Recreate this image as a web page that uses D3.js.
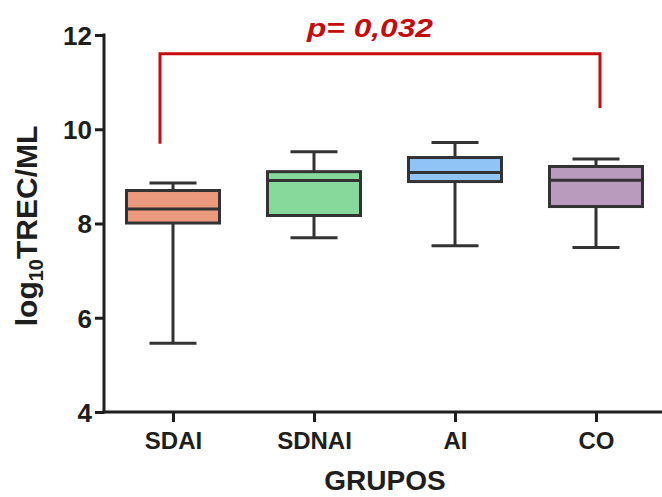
<!DOCTYPE html>
<meta charset="utf-8">
<style>
  body { margin: 0; background: #fff; }
  text { font-family: "Liberation Sans", Arial, sans-serif; }
</style>
<svg width="662" height="497"></svg>
<script src="https://d3js.org/d3.v7.min.js"></script>
<script>
// groups and their box-plot stats (log10 TREC/mL)
var groups = ["SDAI", "SDNAI", "AI", "CO"]
var mins    = [5.46, 7.70, 7.53, 7.49]
var q1s     = [8.01, 8.17, 8.89, 8.36]
var medians = [8.31, 8.91, 9.08, 8.92]
var q3s     = [8.70, 9.10, 9.40, 9.21]
var maxs    = [8.86, 9.52, 9.72, 9.37]
var fills   = ["#eb9a7e", "#86d99b", "#90c4f6", "#b99cbd"]

var yTicks = [4, 6, 8, 10, 12]

// significance bracket between SDAI and CO
var bracket = { from: "SDAI", to: "CO", top: 11.6, leftEnd: 9.69, rightEnd: 10.45, label: "p= 0,032" }

var svg = d3.select("svg")
var ink = "#1e1e1e"

var x = d3.scalePoint().domain(groups).range([173, 596])
var y = d3.scaleLinear().domain([4, 12]).range([412, 35])

var boxW = 93, capW = 47

// y axis
var yAxis = svg.append("g")
  .attr("transform", "translate(104,0)")
  .call(d3.axisLeft(y).tickValues(yTicks).tickSize(9).tickPadding(3).tickSizeOuter(0))
yAxis.select(".domain").remove()
yAxis.selectAll("line").attr("stroke", ink).attr("stroke-width", 3)
yAxis.selectAll("text").attr("fill", ink).attr("font-size", 26).attr("font-weight", "bold").attr("dy", "0.36em")

svg.append("line")
  .attr("x1", 104).attr("x2", 104)
  .attr("y1", y(12) - 1.5).attr("y2", y(4) + 1.5)
  .attr("stroke", ink).attr("stroke-width", 3)

// x axis
var xAxis = svg.append("g")
  .attr("transform", "translate(0," + y(4) + ")")
  .call(d3.axisBottom(x).tickSize(10).tickPadding(10))
xAxis.select(".domain").remove()
xAxis.selectAll("line").attr("stroke", ink).attr("stroke-width", 3)
xAxis.selectAll("text").attr("fill", ink).attr("font-size", 24).attr("font-weight", "bold").attr("dy", "0.72em")

svg.append("line")
  .attr("x1", 102.5).attr("x2", 662)
  .attr("y1", y(4)).attr("y2", y(4))
  .attr("stroke", ink).attr("stroke-width", 3)

// boxes
var boxes = svg.append("g").selectAll("g")
  .data(groups)
  .join("g")

boxes.append("line")
  .attr("x1", function (d) { return x(d) }).attr("x2", function (d) { return x(d) })
  .attr("y1", function (d, i) { return y(maxs[i]) })
  .attr("y2", function (d, i) { return y(mins[i]) })
  .attr("stroke", "#333").attr("stroke-width", 3)

boxes.selectAll(".cap")
  .data(function (d, i) { return [[d, maxs[i]], [d, mins[i]]] })
  .join("line")
  .attr("class", "cap")
  .attr("x1", function (c) { return x(c[0]) - capW / 2 })
  .attr("x2", function (c) { return x(c[0]) + capW / 2 })
  .attr("y1", function (c) { return y(c[1]) })
  .attr("y2", function (c) { return y(c[1]) })
  .attr("stroke", "#333").attr("stroke-width", 3)

boxes.append("rect")
  .attr("x", function (d) { return x(d) - boxW / 2 })
  .attr("width", boxW)
  .attr("y", function (d, i) { return y(q3s[i]) })
  .attr("height", function (d, i) { return y(q1s[i]) - y(q3s[i]) })
  .attr("fill", function (d, i) { return fills[i] })
  .attr("stroke", "#333").attr("stroke-width", 3)

boxes.append("line")
  .attr("x1", function (d) { return x(d) - boxW / 2 })
  .attr("x2", function (d) { return x(d) + boxW / 2 })
  .attr("y1", function (d, i) { return y(medians[i]) })
  .attr("y2", function (d, i) { return y(medians[i]) })
  .attr("stroke", "#333").attr("stroke-width", 3)

// significance bracket
var red = "#c50b0b"
var bx1 = x(bracket.from) - 13, bx2 = x(bracket.to) + 4
svg.append("path")
  .attr("d", "M" + bx1 + "," + y(bracket.leftEnd) + "V" + y(bracket.top) + "H" + bx2 + "V" + y(bracket.rightEnd))
  .attr("fill", "none").attr("stroke", red).attr("stroke-width", 3)

svg.append("text")
  .attr("x", 370).attr("y", 37)
  .attr("text-anchor", "middle")
  .attr("fill", red)
  .attr("font-size", 25).attr("font-weight", "bold").attr("font-style", "italic")
  .attr("textLength", 126).attr("lengthAdjust", "spacingAndGlyphs")
  .text(bracket.label)

// axis titles
svg.append("text")
  .attr("x", 385).attr("y", 490)
  .attr("text-anchor", "middle")
  .attr("fill", ink).attr("font-size", 28).attr("font-weight", "bold")
  .text("GRUPOS")

var yl = svg.append("text")
  .attr("transform", "translate(37,226) rotate(-90)")
  .attr("text-anchor", "middle")
  .attr("fill", ink).attr("font-size", 30).attr("font-weight", "bold")
yl.append("tspan").text("log")
yl.append("tspan").attr("font-size", 20).attr("dy", 6).text("10")
yl.append("tspan").attr("dy", -6).text("TREC/ML")
</script>
